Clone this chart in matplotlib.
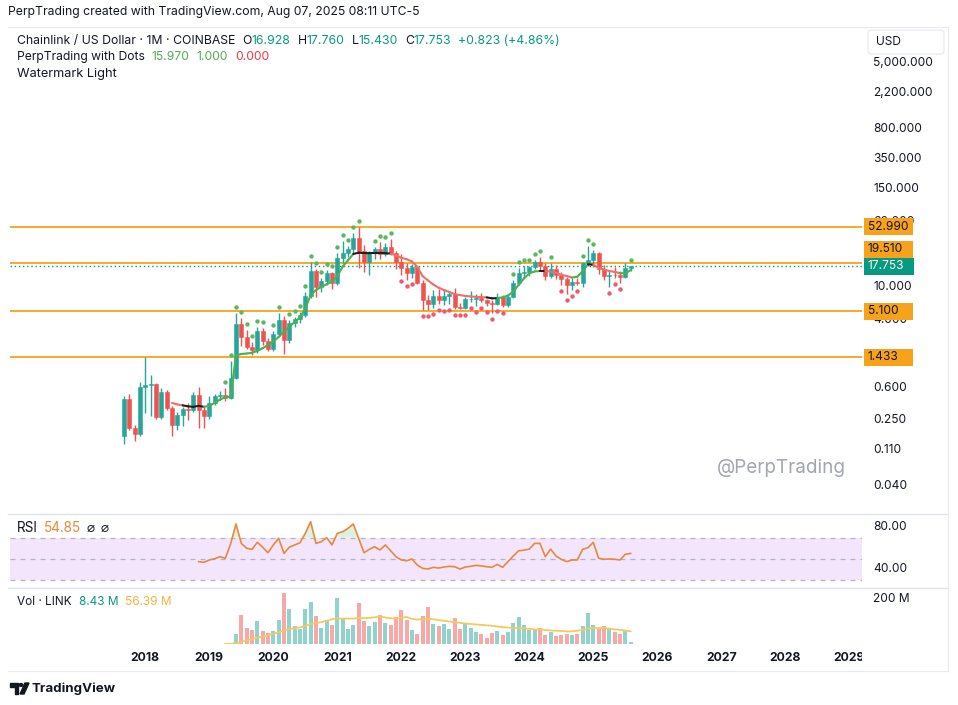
import numpy as np
import pandas as pd
import matplotlib
matplotlib.use("Agg")
import matplotlib.pyplot as plt
from matplotlib.patches import Rectangle, FancyBboxPatch, Polygon, Circle
from matplotlib.collections import LineCollection

plt.rcParams['font.family'] = ['Inter', 'DejaVu Sans']

# ---------------- data ----------------
start_month = "2017-09-01"
opens = [0.16, 0.45, 0.20, 0.17, 0.62, 0.66, 0.68, 0.27, 0.54, 0.35, 0.22, 0.29,
         0.34, 0.33, 0.50, 0.33, 0.28, 0.40, 0.48, 0.50, 0.46, 0.80, 3.60, 2.50,
         1.90, 1.75, 2.95, 2.25, 1.78, 2.75, 4.00, 2.30, 3.70, 4.10, 4.60, 7.80,
         15.6, 10.0, 11.8, 14.7, 11.3, 22.6, 25.6, 28.5, 39.0, 27.0, 20.0, 25.5,
         28.5, 25.0, 30.5, 25.4, 19.8, 17.0, 14.7, 17.2, 11.2, 7.00, 6.20, 7.80,
         6.90, 7.80, 8.30, 5.80, 5.60, 7.10, 7.20, 7.30, 6.90, 6.40, 6.30, 7.50,
         6.00, 7.60, 11.3, 14.7, 15.1, 17.5, 20.0, 18.1, 13.6, 16.4, 13.8, 12.6,
         10.7, 11.6, 11.1, 19.5, 21.0, 25.5, 16.5, 13.6, 14.0, 13.9, 13.3, 16.928]
highs = [0.48, 0.51, 0.22, 0.72, 1.43, 0.87, 0.70, 0.60, 0.58, 0.37, 0.31, 0.36,
         0.40, 0.55, 0.62, 0.36, 0.48, 0.52, 0.56, 0.60, 1.30, 4.80, 4.20, 3.00,
         2.20, 3.30, 3.20, 2.40, 2.95, 4.90, 4.50, 4.00, 4.40, 5.00, 8.80, 20.0,
         16.5, 13.0, 16.0, 15.0, 26.0, 36.0, 31.5, 44.8, 52.99, 32.0, 27.0, 30.0,
         35.0, 34.0, 38.0, 27.0, 25.0, 19.5, 19.0, 18.0, 12.0, 8.00, 9.20, 9.50,
         9.50, 9.00, 9.70, 6.50, 7.60, 9.00, 8.20, 8.40, 7.20, 6.90, 8.50, 7.90,
         7.90, 12.2, 16.8, 17.8, 17.8, 21.0, 22.8, 19.5, 19.5, 18.5, 15.0, 13.2,
         12.8, 13.0, 20.0, 31.0, 27.8, 26.5, 18.5, 15.5, 17.5, 15.5, 19.7, 17.760]
lows = [0.13, 0.19, 0.14, 0.16, 0.30, 0.28, 0.26, 0.26, 0.33, 0.16, 0.19, 0.21,
        0.25, 0.31, 0.20, 0.20, 0.26, 0.38, 0.44, 0.42, 0.45, 0.78, 1.95, 1.80,
        1.50, 1.60, 2.00, 1.70, 1.70, 2.60, 1.55, 2.10, 3.30, 3.70, 4.40, 7.30,
        7.60, 8.80, 10.6, 9.50, 10.6, 19.6, 23.0, 26.0, 17.0, 15.0, 14.0, 21.6,
        21.7, 23.5, 24.0, 16.6, 14.0, 12.0, 12.8, 10.9, 5.30, 5.30, 5.60, 6.20,
        6.10, 6.30, 5.50, 5.40, 5.45, 6.60, 5.90, 6.60, 5.90, 4.90, 6.00, 5.70,
        5.80, 7.30, 10.5, 13.0, 13.6, 16.6, 15.8, 12.0, 12.8, 12.6, 10.6, 8.20,
        9.30, 10.5, 10.0, 17.8, 17.5, 14.5, 12.2, 10.1, 13.0, 11.2, 12.9, 15.430]
closes = [0.45, 0.20, 0.17, 0.62, 0.66, 0.68, 0.27, 0.54, 0.35, 0.22, 0.29, 0.34,
          0.33, 0.50, 0.33, 0.28, 0.40, 0.48, 0.50, 0.46, 0.80, 3.60, 2.50, 1.90,
          1.75, 2.95, 2.25, 1.78, 2.75, 4.00, 2.30, 3.70, 4.10, 4.60, 7.80, 15.6,
          10.0, 11.8, 14.7, 11.3, 22.6, 25.6, 28.5, 39.0, 27.0, 20.0, 25.5, 28.5,
          25.0, 30.5, 25.4, 19.8, 17.0, 14.7, 17.2, 11.2, 7.00, 6.20, 7.80, 6.90,
          7.80, 8.30, 5.80, 5.60, 7.10, 7.20, 7.30, 6.90, 6.40, 6.30, 7.50, 6.00,
          7.60, 11.3, 14.7, 15.1, 17.5, 20.0, 18.1, 13.6, 16.4, 13.8, 12.6, 10.7,
          11.6, 11.1, 19.5, 21.0, 25.5, 16.5, 13.6, 14.0, 13.9, 13.3, 16.928, 17.753]
# volume in millions (no volume before mid-2019)
volume_m = [0] * 21 + [
    45, 131, 71, 63, 101, 56, 48, 56, 107, 226, 154, 81, 66, 155, 188, 123,
    72, 105, 86, 206, 117, 68, 83, 181, 101, 78, 98, 128, 95, 86, 120, 150,
    105, 63, 45, 123, 166, 90, 80, 90, 68, 117, 68, 87, 72, 53, 45, 26,
    48, 56, 38, 53, 93, 120, 86, 63, 63, 71, 42, 53, 35, 41, 45, 41,
    45, 80, 138, 83, 68, 80, 71, 53, 45, 60, 8.43]
vol_ma_m = [np.nan] * 19 + [
    0, 0, 4, 10, 16, 22, 28, 33, 38, 45, 52, 60, 66, 70, 74, 80, 88, 93, 97, 103,
    110, 113, 113, 113, 113, 115, 116, 116, 119, 123, 118, 114, 113, 117, 120, 112,
    108, 112, 113, 110, 106, 103, 100, 97, 94, 91, 89, 87, 85, 83, 81, 78, 75, 73,
    72, 71, 69, 67, 65, 64, 62, 60, 59, 58, 56, 56, 59, 63, 68, 71, 71, 71, 68, 65,
    63, 60, 56.39]
rsi = [np.nan] * 14 + [
    47, 46.4, 48.6, 49.8, 51.7, 50.2, 64, 82.9, 64.4, 59.7, 58.7, 65.4, 60.7, 55.5,
    62.9, 69.2, 54.9, 60.7, 62.9, 65, 74, 85, 64.4, 66, 69.8, 62.9, 74, 75.5, 78.7,
    82.9, 69.2, 55.5, 58.7, 61.2, 58.1, 62.9, 57.4, 51.7, 48.6, 47.9, 49.5, 43.8,
    40.6, 40, 41.6, 40.9, 41.9, 42.5, 42.2, 40, 41.9, 42.5, 43.5, 42.9, 42.2, 41.6,
    44.4, 41.6, 47, 52.4, 57.4, 57.9, 59, 64.4, 64.4, 51.7, 59, 52.4, 49.2, 47,
    48.6, 48.6, 58.7, 60.3, 65.4, 50.2, 49.3, 49.5, 49.3, 48.6, 54, 54.85]
# "PerpTrading with Dots" trend line and its state (1 up, -1 down, 0 neutral)
trend_line = [np.nan] * 9 + [
    0.40, 0.385, 0.375, 0.365, 0.36, 0.37, 0.36, 0.37, 0.40, 0.44, 0.47, 0.48,
    1.50, 1.56, 1.58, 1.61, 1.70, 1.83, 2.00, 2.20, 2.50, 2.90, 3.30, 3.80, 4.30,
    5.50, 8.00, 9.20, 10.0, 10.8, 11.6, 13.5, 17.6, 21.0, 25.0, 25.9, 25.7, 25.5,
    25.5, 25.5, 25.5, 25.3, 24.0, 22.5, 21.6, 20.3, 17.5, 13.5, 12.0, 10.7, 9.8,
    9.2, 8.7, 8.2, 8.0, 7.8, 7.7, 7.6, 7.55, 7.5, 7.3, 7.35, 7.5, 7.9, 8.8, 10.6,
    12.7, 14.6, 15.4, 15.6, 15.6, 15.3, 14.8, 14.0, 13.6, 13.0, 13.3, 15.5, 18.8,
    18.5, 17.0, 16.2, 15.6, 15.2, 14.7, 14.6, 15.97]
trend_state = [0] * 9 + [-1] * 3 + [0] * 4 + [1] * 28 + [0] * 7 + [-1] * 18 + \
    [0] * 2 + [1] * 8 + [0] + [-1] * 5 + [1] * 3 + [0] + [-1] * 5 + [1] * 2
dot_signal = ([0] * 19 + [1] * 8 + [0] + [1, 1] + [0] + [1] * 14 + [0, 0] +
              [1] * 4 + [0] + [-1] * 3 + [0] + [-1] * 16 + [0] + [1] * 6 + [0] +
              [1] + [0] + [-1] * 4 + [1] * 3 + [0, 0] + [-1] * 3 + [0] + [1])
levels = [52.990, 19.510, 5.100, 1.433]
last_close = 17.753
price_ticks = [5000, 2200, 800, 350, 150, 60, 10, 4, 0.6, 0.25, 0.11, 0.04]
rsi_ticks = [80, 40]
vol_ticks = [200]
years = list(range(2018, 2030))

# ---------------- styling ----------------
W, H = 958, 705
GREEN = '#26A69A'
RED = '#EF5350'
VGREEN = '#92D2CC'
VRED = '#F7A9A7'
ORANGE = '#F7A21B'
DARK = '#131722'
TEAL = '#089981'
LINE_GREEN = '#4CAF50'
LINE_RED = '#EF6F6C'
GRID = '#E0E3EB'

fig = plt.figure(figsize=(W / 100, H / 100), dpi=100)
fig.patch.set_facecolor('white')
renderer = fig.canvas.get_renderer()


def rect_px(x0, y0, x1, y1):
    return [x0 / W, 1 - y1 / H, (x1 - x0) / W, (y1 - y0) / H]


def ftext(x, y, s, **kw):
    kw.setdefault('va', 'center')
    kw.setdefault('ha', 'left')
    return fig.text(x / W, 1 - y / H, s, **kw)


def frect(x0, y0, x1, y1, **kw):
    r = Rectangle((x0 / W, 1 - y1 / H), (x1 - x0) / W, (y1 - y0) / H,
                  transform=fig.transFigure, **kw)
    fig.add_artist(r)
    return r


def fline(x0, y0, x1, y1, **kw):
    fig.add_artist(plt.Line2D([x0 / W, x1 / W], [1 - y0 / H, 1 - y1 / H],
                              transform=fig.transFigure, **kw))


def text_width(s, size, weight='normal'):
    t = fig.text(0, 0, s, fontsize=size, fontweight=weight)
    w = t.get_window_extent(renderer).width
    t.remove()
    return w


def seq_text(x, y, pieces, target_w, base=10, zorder=5):
    # pieces: (text, color, gap_after_px)
    gaps = sum(p[2] for p in pieces)
    nat = sum(text_width(p[0], base) for p in pieces)
    size = base * (target_w - gaps) / nat
    for s, c, g in pieces:
        t = ftext(x, y, s, color=c, fontsize=size, zorder=zorder)
        x += t.get_window_extent(renderer).width + g
    return size


X0_PX, PX_BAR = 124.0, 5.333
L_PX, R_PX = 10, 862
xlim = ((L_PX - X0_PX) / PX_BAR, (R_PX - X0_PX) / PX_BAR)

n = len(closes)
x = np.arange(n)
o = np.array(opens); h = np.array(highs); l = np.array(lows); c = np.array(closes)

# ---------------- main price pane ----------------
MAIN_T, MAIN_B = 28, 513
ax = fig.add_axes(rect_px(L_PX, MAIN_T, R_PX, MAIN_B))
ax.set_yscale('log')
ref_y, ref_px, px_dec = 10.0, 287.0, 83.0
ax.set_ylim(10 ** (np.log10(ref_y) - (MAIN_B - ref_px) / px_dec),
            10 ** (np.log10(ref_y) + (ref_px - MAIN_T) / px_dec))
ax.set_xlim(*xlim)
ax.axis('off')

for lv in levels:
    ax.axhline(lv, color=ORANGE, lw=1.3, zorder=1)
ax.axhline(last_close, color=TEAL, lw=1.0, ls=(0, (1, 2)), zorder=1)

up = c >= o
cols = np.where(up, GREEN, RED)
ax.vlines(x, l, h, colors=cols, lw=1.0, zorder=3)
lo_b = np.minimum(o, c); hi_b = np.maximum(o, c)
ax.bar(x, hi_b - lo_b, bottom=lo_b, width=0.72, color=cols, edgecolor=cols,
       lw=0.4, zorder=4)

tl = np.array(trend_line, dtype=float)
st = np.array(trend_state)
segs, scol = [], []
for i in range(1, n):
    if np.isnan(tl[i - 1]) or np.isnan(tl[i]):
        continue
    segs.append([(i - 1, tl[i - 1]), (i, tl[i])])
    scol.append({1: LINE_GREEN, -1: LINE_RED, 0: '#1E1E1E'}[int(st[i])])
ax.add_collection(LineCollection(segs, colors=scol, linewidths=1.5, zorder=5,
                                 capstyle='round'))

ds = np.array(dot_signal)
gi = np.where(ds == 1)[0]
ri = np.where(ds == -1)[0]
off = 10 ** (6.0 / px_dec)
ax.scatter(gi, h[gi] * off, s=10, color='#5CB85C', zorder=6, lw=0)
ax.scatter(ri, l[ri] / off, s=10, color='#F0596A', zorder=6, lw=0)

ax.text((846 - L_PX) / (R_PX - L_PX), 1 - (468 - MAIN_T) / (MAIN_B - MAIN_T),
        '@PerpTrading', transform=ax.transAxes, ha='right', va='center',
        fontsize=13.6, color='#A3A6AF', zorder=2)


def ypx(axis, v):
    return H - axis.transData.transform((0, v))[1]


# price scale labels
for tv in price_ticks:
    yy = ypx(ax, tv)
    s = f"{tv:,.3f}" if tv >= 1000 else f"{tv:.3f}"
    ftext(873, yy, s, fontsize=8.6, color=DARK, zorder=5)

BOX_H = 17.0
last_y = ypx(ax, last_close)
for lv in levels:
    yy = ypx(ax, lv)
    # labels colliding with the last-price label are pushed away from it
    if abs(yy - last_y) < BOX_H:
        yy = last_y - BOX_H if lv > last_close else last_y + BOX_H
    frect(864, yy - BOX_H / 2, 913, yy + BOX_H / 2, facecolor=ORANGE,
          edgecolor='none', zorder=6)
    ftext(868, yy, f"{lv:.3f}", fontsize=8.6, color=DARK, zorder=7)
frect(864, last_y - BOX_H / 2, 914, last_y + BOX_H / 2, facecolor=TEAL,
      edgecolor='none', zorder=8)
ftext(868, last_y, f"{last_close:.3f}", fontsize=8.6, color='white', zorder=9)

# USD box
ub = FancyBboxPatch((868 / W, 1 - 54 / H), 76 / W, 24 / H,
                    boxstyle='round,pad=0,rounding_size=0.004',
                    transform=fig.transFigure, facecolor='white',
                    edgecolor='#E6E8EE', lw=0.8, zorder=10)
fig.add_artist(ub)
ftext(876, 42, 'USD', fontsize=8.6, color=DARK, zorder=11)

# ---------------- RSI pane ----------------
RSI_T, RSI_B = 514, 587
rax = fig.add_axes(rect_px(L_PX, RSI_T, R_PX, RSI_B))
r80, r40 = 527.0, 569.0
ppu = (r40 - r80) / 40.0
rax.set_ylim(40 - (RSI_B - r40) / ppu, 80 + (r80 - RSI_T) / ppu)
rax.set_xlim(*xlim)
rax.axis('off')
rax.axhspan(30, 70, color='#F3E6FC', lw=0, zorder=0)
for lv in (70, 50, 30):
    rax.axhline(lv, color='#B2B5BE', lw=0.9, ls=(0, (4, 4)), zorder=1)
rs = np.array(rsi, dtype=float)
rax.fill_between(x, rs, 70, where=rs > 70, interpolate=True, color='#4CAF50',
                 alpha=0.18, lw=0, zorder=2)
rax.plot(x, rs, color='#E8893B', lw=1.2, zorder=3)
for tv in rsi_ticks:
    ftext(873, ypx(rax, tv), f"{tv:.2f}", fontsize=8.6, color=DARK, zorder=5)

# ---------------- Volume pane ----------------
VOL_T, VOL_B = 588, 644
vax = fig.add_axes(rect_px(L_PX, VOL_T, R_PX, VOL_B))
v200 = 599.0
vppm = (VOL_B - v200) / 200.0
vax.set_ylim(0, (VOL_B - VOL_T) / vppm)
vax.set_xlim(*xlim)
vax.axis('off')
vcols = np.where(up, VGREEN, VRED)
vax.bar(x, volume_m, width=0.72, color=vcols, lw=0, zorder=2)
vax.plot(x, vol_ma_m, color='#F5C95E', lw=1.3, zorder=3)
for tv in vol_ticks:
    ftext(873, ypx(vax, tv), f"{tv} M", fontsize=8.6, color=DARK, zorder=5)

# ---------------- time axis ----------------
tax = fig.add_axes(rect_px(L_PX, 645, R_PX, 671))
tax.set_xlim(*xlim)
tax.set_ylim(0, 1)
tax.axis('off')
start = pd.Timestamp(start_month)
for yr in years:
    pos = (yr - start.year) * 12 + (1 - start.month)
    tax.text(pos, 0.5, str(yr), ha='center', va='center', fontsize=8.8,
             fontweight='bold', color=DARK, clip_on=True)

# ---------------- frame ----------------
fline(8, 27, 948, 27, color='#E8EAEF', lw=0.8)
fline(8, 513.5, 948, 513.5, color=GRID, lw=1.0)
fline(8, 587.5, 948, 587.5, color=GRID, lw=1.0)
fline(8, 671, 948, 671, color='#E8EAEF', lw=0.8)
fline(948, 27, 948, 671, color='#E8EAEF', lw=0.8)

# ---------------- texts ----------------
seq_text(8, 12, [('PerpTrading created with TradingView.com, Aug 07, 2025 08:11 UTC-5',
                  DARK, 0)], target_w=412)
seq_text(17, 41, [
    ('Chainlink / US Dollar · 1M · COINBASE', DARK, 7),
    ('O', DARK, 0), (f"{opens[-1]:.3f}", TEAL, 7),
    ('H', DARK, 0), (f"{highs[-1]:.3f}", TEAL, 7),
    ('L', DARK, 0), (f"{lows[-1]:.3f}", TEAL, 7),
    ('C', DARK, 0), (f"{closes[-1]:.3f}", TEAL, 7),
    ('+0.823 (+4.86%)', TEAL, 0)], target_w=543)
seq_text(17, 57, [('PerpTrading with Dots', DARK, 7),
                  (f"{trend_line[-1]:.3f}", LINE_GREEN, 7),
                  ('1.000', LINE_GREEN, 7), ('0.000', '#F23645', 0)],
         target_w=254)
ftext(17, 74, 'Watermark Light', fontsize=9.2, color=DARK)

seq_text(17, 528, [('RSI', DARK, 6), (f"{rsi[-1]:.2f}", '#E8893B', 6),
                   ('⌀', DARK, 5), ('⌀', DARK, 0)], target_w=92)
seq_text(17, 602, [('Vol · LINK', DARK, 7), (f"{volume_m[-1]:.2f} M", TEAL, 7),
                   (f"{vol_ma_m[-1]:.2f} M", '#F0B43C', 0)], target_w=156)

# TradingView logo
fig.add_artist(Polygon([(10 / W, 1 - 683 / H), (18 / W, 1 - 683 / H),
                        (18 / W, 1 - 694 / H), (14.5 / W, 1 - 694 / H),
                        (14.5 / W, 1 - 686.5 / H), (10 / W, 1 - 686.5 / H)],
                       closed=True, transform=fig.transFigure, color=DARK))
fig.add_artist(Circle((21 / W, 1 - 685 / H), 1.9 / W, transform=fig.transFigure,
                      color=DARK))
fig.add_artist(Polygon([(25 / W, 1 - 683 / H), (29 / W, 1 - 683 / H),
                        (24 / W, 1 - 694 / H), (20 / W, 1 - 694 / H)],
                       closed=True, transform=fig.transFigure, color=DARK))
ftext(32, 688.5, 'TradingView', fontsize=9.6, fontweight='bold', color=DARK)

fig.savefig('out.png', dpi=100, facecolor='white')
